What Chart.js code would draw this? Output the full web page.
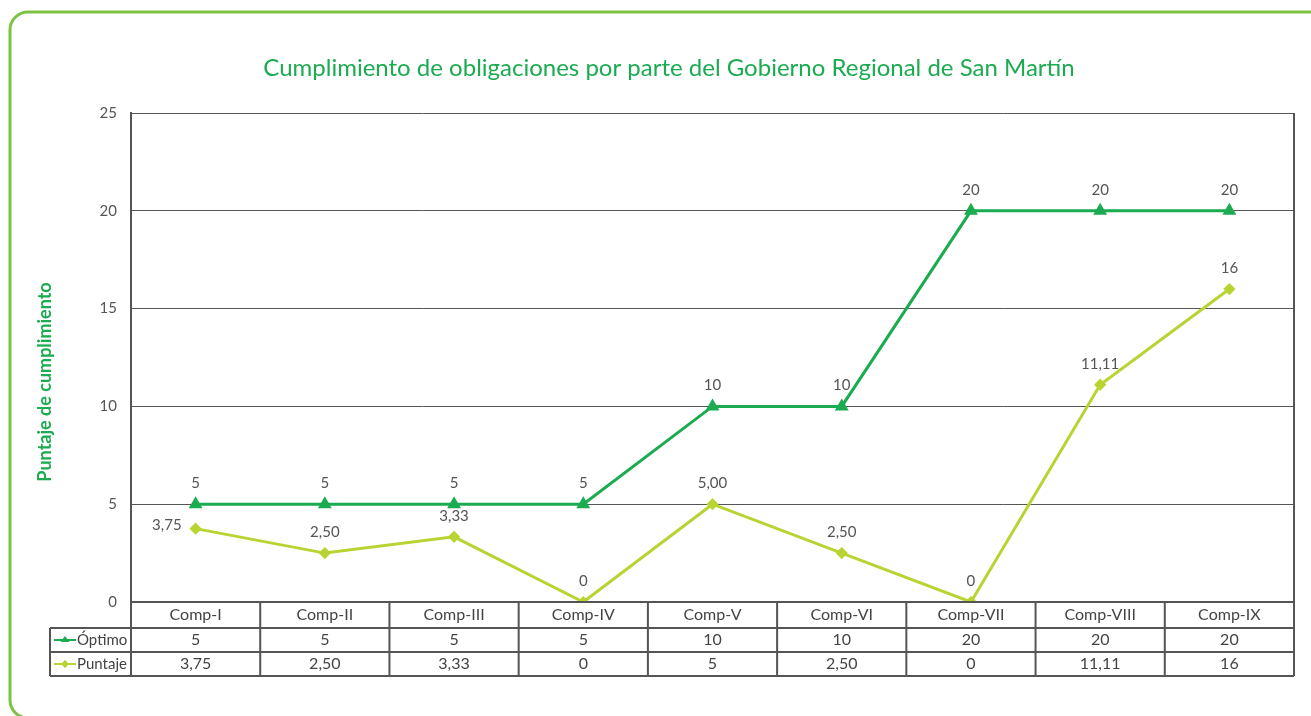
<!DOCTYPE html>
<html>
<head>
<meta charset="utf-8">
<script src="https://cdn.jsdelivr.net/npm/chart.js@4"></script>
<style>
  html, body { margin: 0; padding: 0; background: #fff; }
  #wrap { width: 1311px; height: 716px; }
</style>
</head>
<body>
<div id="wrap"><canvas id="chart" width="1311" height="716"></canvas></div>
<script>
// Datos del gráfico
const categorias = ['Comp-I', 'Comp-II', 'Comp-III', 'Comp-IV', 'Comp-V', 'Comp-VI', 'Comp-VII', 'Comp-VIII', 'Comp-IX'];
const optimo = [5, 5, 5, 5, 10, 10, 20, 20, 20];
const puntaje = [3.75, 2.5, 3.33, 0, 5, 2.5, 0, 11.11, 16];
const etiquetasOptimo = ['5', '5', '5', '5', '10', '10', '20', '20', '20'];
const etiquetasPuntaje = ['3,75', '2,50', '3,33', '0', '5,00', '2,50', '0', '11,11', '16'];
const tablaPuntaje = ['3,75', '2,50', '3,33', '0', '5', '2,50', '0', '11,11', '16'];
const ticksY = [0, 5, 10, 15, 20, 25];

const titulo = 'Cumplimiento de obligaciones por parte del Gobierno Regional de San Martín';
const tituloY = 'Puntaje de cumplimiento';

const VERDE = '#1bab50';
const LIMA = '#b7d432';
const GRIS = '#555555';
const FUENTE = 'Lato, "Open Sans", sans-serif';

const extras = {
  id: 'extras',
  beforeDraw(chart) {
    const ctx = chart.ctx;
    ctx.save();
    ctx.fillStyle = '#fff';
    ctx.fillRect(0, 0, chart.width, chart.height);
    ctx.restore();
  },
  afterDraw(chart) {
    const ctx = chart.ctx;
    const area = chart.chartArea;
    const x = chart.scales.x;
    ctx.save();

    // marco verde redondeado (borde inferior y derecho fuera del lienzo)
    ctx.strokeStyle = '#7dc242';
    ctx.lineWidth = 3;
    ctx.beginPath();
    ctx.roundRect(10, 12, 1330, 706, 18);
    ctx.stroke();

    // título
    ctx.fillStyle = VERDE;
    ctx.font = '24px ' + FUENTE;
    ctx.textAlign = 'center';
    ctx.textBaseline = 'middle';
    ctx.fillText(titulo, 669, 68);

    // título eje Y
    ctx.save();
    ctx.translate(45, 382);
    ctx.rotate(-Math.PI / 2);
    ctx.font = 'bold 18px ' + FUENTE;
    ctx.fillText(tituloY, 0, 0);
    ctx.restore();

    // bordes del área
    ctx.strokeStyle = GRIS;
    ctx.lineWidth = 2;
    ctx.beginPath();
    ctx.moveTo(area.right, area.top);
    ctx.lineTo(area.right, area.bottom);
    ctx.moveTo(area.left, area.top);
    ctx.lineTo(area.left, area.bottom);
    ctx.stroke();

    // etiquetas de datos
    ctx.font = '15px ' + FUENTE;
    ctx.fillStyle = GRIS;
    const m0 = chart.getDatasetMeta(0).data;
    m0.forEach((p, i) => {
      ctx.textAlign = 'center';
      ctx.fillText(etiquetasOptimo[i], p.x, p.y - 21);
    });
    const m1 = chart.getDatasetMeta(1).data;
    m1.forEach((p, i) => {
      if (i === 0) {
        ctx.textAlign = 'right';
        ctx.fillText(etiquetasPuntaje[i], p.x - 14, p.y - 3);
      } else {
        ctx.textAlign = 'center';
        ctx.fillText(etiquetasPuntaje[i], p.x, p.y - 21);
      }
    });

    // tabla de datos
    const filas = [area.bottom, area.bottom + 26, area.bottom + 50, area.bottom + 74];
    const izq = 50;
    const paso = (area.right - area.left) / categorias.length;
    ctx.strokeStyle = GRIS;
    ctx.lineWidth = 2;
    ctx.beginPath();
    ctx.moveTo(area.left, filas[0]); ctx.lineTo(area.right, filas[0]);
    for (let r = 1; r < filas.length; r++) {
      ctx.moveTo(izq, filas[r]); ctx.lineTo(area.right, filas[r]);
    }
    ctx.moveTo(izq, filas[1]); ctx.lineTo(izq, filas[3]);
    for (let c = 0; c <= categorias.length; c++) {
      const xx = area.left + c * paso;
      ctx.moveTo(xx, filas[0]); ctx.lineTo(xx, filas[3]);
    }
    ctx.stroke();

    ctx.fillStyle = '#444';
    ctx.font = '16px ' + FUENTE;
    ctx.textAlign = 'center';
    categorias.forEach((c, i) => {
      const cx = x.getPixelForValue(i);
      ctx.fillText(c, cx, (filas[0] + filas[1]) / 2);
      ctx.fillText(String(optimo[i]), cx, (filas[1] + filas[2]) / 2);
      ctx.fillText(tablaPuntaje[i], cx, (filas[2] + filas[3]) / 2);
    });

    // leyenda en la tabla
    const leyenda = [
      { txt: 'Óptimo', color: VERDE, y: (filas[1] + filas[2]) / 2, forma: 'tri' },
      { txt: 'Puntaje', color: LIMA, y: (filas[2] + filas[3]) / 2, forma: 'rombo' }
    ];
    leyenda.forEach(l => {
      ctx.strokeStyle = l.color;
      ctx.fillStyle = l.color;
      ctx.lineWidth = 2;
      ctx.beginPath();
      ctx.moveTo(54, l.y); ctx.lineTo(76, l.y);
      ctx.stroke();
      ctx.beginPath();
      if (l.forma === 'tri') {
        ctx.moveTo(65, l.y - 4); ctx.lineTo(69.5, l.y + 2); ctx.lineTo(60.5, l.y + 2);
      } else {
        ctx.moveTo(65, l.y - 4); ctx.lineTo(69, l.y); ctx.lineTo(65, l.y + 4); ctx.lineTo(61, l.y);
      }
      ctx.closePath();
      ctx.fill();
      ctx.fillStyle = '#444';
      ctx.font = '15px ' + FUENTE;
      ctx.textAlign = 'left';
      ctx.fillText(l.txt, 77, l.y);
    });

    ctx.restore();
  }
};

new Chart(document.getElementById('chart'), {
  type: 'line',
  data: {
    labels: categorias,
    datasets: [
      {
        label: 'Óptimo',
        data: optimo,
        borderColor: VERDE,
        backgroundColor: VERDE,
        borderWidth: 3,
        pointStyle: 'triangle',
        pointRadius: 5,
        tension: 0
      },
      {
        label: 'Puntaje',
        data: puntaje,
        borderColor: LIMA,
        backgroundColor: LIMA,
        borderWidth: 3,
        pointStyle: 'rectRot',
        pointRadius: 4,
        tension: 0
      }
    ]
  },
  options: {
    responsive: false,
    animation: false,
    layout: { padding: { top: 113, bottom: 114, right: 17, left: 0 } },
    plugins: {
      legend: { display: false },
      tooltip: { enabled: false },
      title: { display: false }
    },
    scales: {
      x: { type: 'category', offset: true, display: false },
      y: {
        min: 0,
        max: 25,
        afterBuildTicks: s => { s.ticks = ticksY.map(v => ({ value: v })); },
        afterFit: s => { s.width = 131; },
        ticks: { color: GRIS, font: { size: 15, family: FUENTE }, padding: 14 },
        grid: { color: GRIS, lineWidth: 1, drawTicks: false },
        border: { display: true, color: GRIS, width: 2 }
      }
    }
  },
  plugins: [extras]
});
</script>
</body>
</html>
